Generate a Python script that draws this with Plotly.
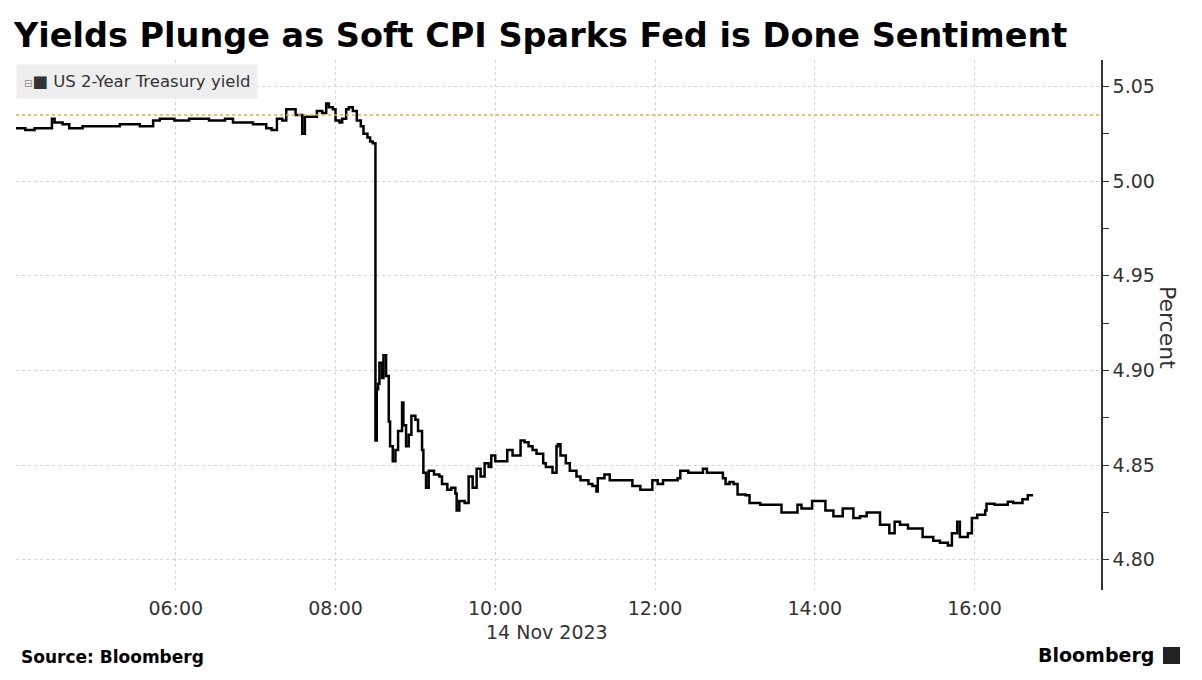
import plotly.graph_objects as go

TITLE = "Yields Plunge as Soft CPI Sparks Fed is Done Sentiment"
SERIES_NAME = "US 2-Year Treasury yield"
DATE = "2023-11-14"

# intraday US 2y yield (HH:MM, percent)
times = [
    "04:00", "04:07", "04:14", "04:23", "04:27", "04:29", "04:35", "04:40", "04:50", "05:03",
    "05:18", "05:33", "05:40", "05:43", "05:48", "05:59", "06:10", "06:25", "06:37", "06:43",
    "06:52", "06:58", "07:04", "07:08", "07:12", "07:16", "07:20", "07:23", "07:28", "07:30",
    "07:33", "07:35", "07:37", "07:42", "07:46", "07:50", "07:53", "07:55", "07:58", "08:00",
    "08:03", "08:05", "08:08", "08:10", "08:13", "08:16", "08:19", "08:21", "08:24", "08:26",
    "08:28", "08:30", "08:31", "08:32", "08:33", "08:35", "08:36", "08:38", "08:40", "08:41",
    "08:43", "08:45", "08:47", "08:50", "08:51", "08:53", "08:55", "08:57", "09:00", "09:02",
    "09:05", "09:06", "09:08", "09:10", "09:14", "09:18", "09:20", "09:24", "09:27", "09:30",
    "09:31", "09:33", "09:37", "09:40", "09:43", "09:46", "09:49", "09:52", "09:55", "09:57",
    "10:00", "10:05", "10:09", "10:13", "10:19", "10:22", "10:25", "10:28", "10:31", "10:36",
    "10:38", "10:43", "10:46", "10:47", "10:49", "10:53", "10:56", "11:01", "11:04", "11:10",
    "11:13", "11:16", "11:17", "11:22", "11:26", "11:34", "11:40", "11:43", "11:49", "11:56",
    "11:58", "12:02", "12:06", "12:12", "12:17", "12:19", "12:25", "12:31", "12:36", "12:39",
    "12:49", "12:51", "12:53", "12:56", "12:59", "13:02", "13:08", "13:11", "13:15", "13:19",
    "13:31", "13:35", "13:44", "13:47", "13:50", "13:55", "13:58", "14:05", "14:08", "14:14",
    "14:19", "14:21", "14:26", "14:29", "14:34", "14:39", "14:47", "14:49", "14:56", "15:00",
    "15:04", "15:10", "15:19", "15:21", "15:29", "15:34", "15:38", "15:40", "15:43", "15:47",
    "15:49", "15:54", "15:55", "15:58", "16:02", "16:08", "16:09", "16:15", "16:25", "16:29",
    "16:36", "16:40", "16:44",
]
yields = [
    5.028, 5.027, 5.028, 5.028, 5.033, 5.031, 5.030, 5.028, 5.029, 5.029,
    5.030, 5.029, 5.029, 5.032, 5.033, 5.032, 5.033, 5.032, 5.033, 5.031,
    5.031, 5.030, 5.030, 5.028, 5.027, 5.033, 5.032, 5.038, 5.038, 5.035,
    5.035, 5.025, 5.034, 5.034, 5.037, 5.036, 5.041, 5.039, 5.038, 5.032,
    5.031, 5.033, 5.038, 5.039, 5.037, 5.032, 5.029, 5.025, 5.023, 5.021,
    5.020, 4.863, 4.890, 4.893, 4.904, 4.896, 4.908, 4.897, 4.873, 4.860,
    4.852, 4.858, 4.868, 4.883, 4.871, 4.860, 4.866, 4.876, 4.874, 4.868,
    4.858, 4.846, 4.838, 4.847, 4.845, 4.844, 4.840, 4.837, 4.838, 4.835,
    4.826, 4.831, 4.830, 4.844, 4.838, 4.848, 4.844, 4.851, 4.849, 4.855,
    4.852, 4.852, 4.858, 4.855, 4.863, 4.862, 4.860, 4.858, 4.856, 4.851,
    4.849, 4.846, 4.860, 4.861, 4.855, 4.851, 4.847, 4.844, 4.842, 4.840,
    4.839, 4.836, 4.843, 4.845, 4.842, 4.842, 4.842, 4.839, 4.837, 4.837,
    4.842, 4.840, 4.842, 4.842, 4.843, 4.847, 4.846, 4.846, 4.848, 4.846,
    4.846, 4.843, 4.840, 4.841, 4.840, 4.8345, 4.834, 4.830, 4.830, 4.829,
    4.829, 4.825, 4.825, 4.829, 4.827, 4.827, 4.831, 4.831, 4.826, 4.823,
    4.823, 4.827, 4.827, 4.822, 4.823, 4.825, 4.825, 4.8185, 4.814, 4.820,
    4.8185, 4.8165, 4.8165, 4.812, 4.810, 4.809, 4.809, 4.8075, 4.814, 4.820,
    4.812, 4.812, 4.814, 4.822, 4.8237, 4.826, 4.8296, 4.829, 4.8306, 4.830,
    4.832, 4.834, 4.834,
]

pre_cpi_level = 5.035  # orange dotted reference line

x_ticks = ["04:00", "06:00", "08:00", "10:00", "12:00", "14:00", "16:00"]
x_tick_text = ["", "06:00", "08:00", "10:00", "12:00", "14:00", "16:00"]
y_ticks = [4.80, 4.85, 4.90, 4.95, 5.00, 5.05]

x_start = "04:00"
x_end = "17:35"
y_low, y_high = 4.784, 5.064


def ts(hhmm):
    return f"{DATE} {hhmm}"


FONT = "DejaVu Sans"
GRID = "#d4d4d4"
W, H = 1202, 680
L, R, T, B = 16, 1101, 60, 590  # plot area in px


def px(x):
    return (x - L) / (R - L)


def py(y):
    return (B - y) / (B - T)


fig = go.Figure()
fig.add_trace(go.Scatter(
    x=[ts(t) for t in times], y=yields, mode="lines", name=SERIES_NAME,
    line=dict(color="black", width=2.5, shape="hv"), showlegend=False,
))

fig.add_shape(type="line", xref="paper", x0=0, x1=1, yref="y", y0=pre_cpi_level, y1=pre_cpi_level,
              line=dict(color="#f2a93b", width=1.5, dash="dot"))

fig.update_layout(
    width=W, height=H,
    margin=dict(l=L, r=W - R, t=T, b=H - B, autoexpand=False),
    paper_bgcolor="white", plot_bgcolor="white",
    font=dict(family=FONT, color="#333333"),
    title=dict(text=f"<b>{TITLE}</b>", x=14 / W, xanchor="left", y=1 - 35 / H, yanchor="middle",
               font=dict(family=FONT, size=33.5, color="black")),
    xaxis=dict(
        type="date", range=[ts(x_start), ts(x_end)],
        tickvals=[ts(t) for t in x_ticks], ticktext=x_tick_text,
        showgrid=True, gridcolor=GRID, griddash="dot", gridwidth=1,
        showline=False, zeroline=False, ticks="", ticklabelstandoff=5,
        tickfont=dict(size=19, color="#333333"),
    ),
    yaxis=dict(
        side="right", range=[y_low, y_high], tickvals=y_ticks,
        tickformat=".2f", showgrid=True, gridcolor=GRID, griddash="dot", gridwidth=1,
        showline=True, linecolor="#333333", linewidth=1.5,
        ticks="outside", ticklen=6, tickcolor="#333333",
        minor=dict(dtick=0.025, tick0=4.80, ticks="outside", ticklen=6, tickcolor="#333333", showgrid=False),
        tickfont=dict(size=19, color="#333333"), zeroline=False,
    ),
)

fig.add_annotation(
    text="<span style='font-size:10px;color:#888888'>⊟</span>■ " + SERIES_NAME,
    xref="paper", yref="paper", x=0, y=py(64), xanchor="left", yanchor="top",
    showarrow=False, bgcolor="#eeeeee", borderpad=7, font=dict(size=16.5, color="#333333"),
)
fig.add_annotation(
    text="Percent", textangle=90, xref="paper", yref="paper",
    x=px(1168), y=py(327), xanchor="center", yanchor="middle",
    showarrow=False, font=dict(size=22, color="#333333"),
)
fig.add_annotation(
    text="14 Nov 2023", xref="paper", yref="paper", x=px(547), y=py(632),
    xanchor="center", yanchor="middle", showarrow=False, font=dict(size=19, color="#333333"),
)
fig.add_annotation(
    text="<b>Source: Bloomberg</b>", xref="paper", yref="paper", x=px(19),
    y=py(657), xanchor="left", yanchor="middle", showarrow=False, font=dict(size=17, color="black"),
)
fig.add_annotation(
    text="<b>Bloomberg</b>", xref="paper", yref="paper", x=px(1156),
    y=py(655), xanchor="right", yanchor="middle", showarrow=False, font=dict(size=19, color="black"),
)
fig.add_shape(type="rect", xref="paper", yref="paper",
              x0=px(1163), x1=px(1180), y0=py(664), y1=py(647),
              fillcolor="#222222", line=dict(width=0))

fig.write_html("out.html", config={"displayModeBar": False},
               post_script="document.body.style.margin='0';")
